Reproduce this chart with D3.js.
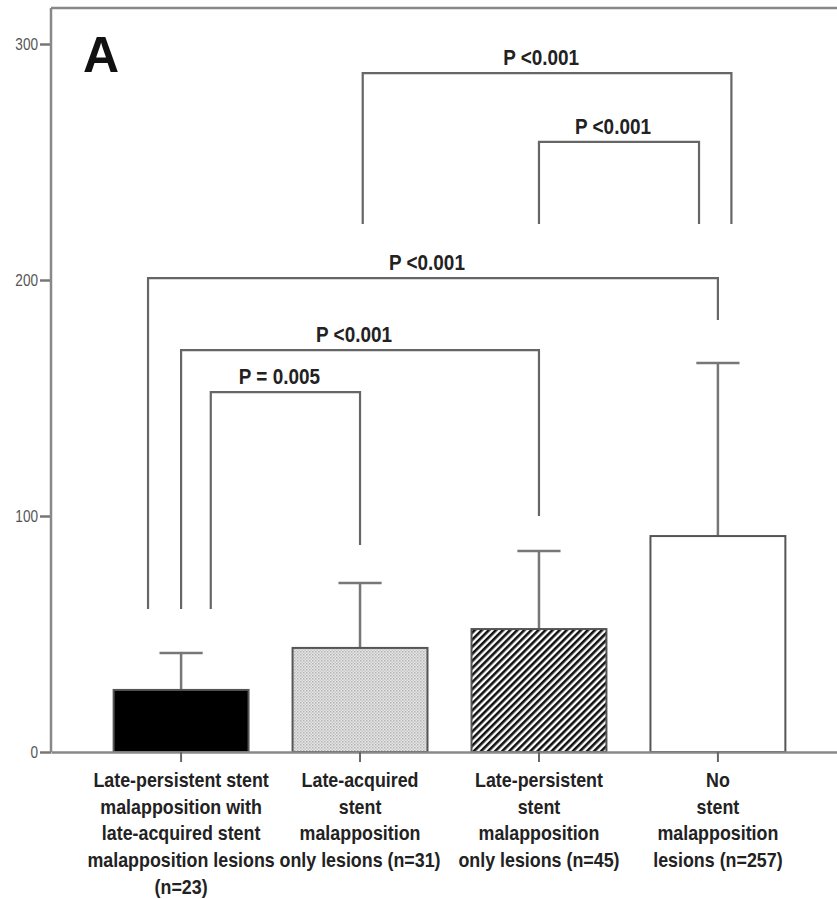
<!DOCTYPE html>
<html>
<head>
<meta charset="utf-8">
<script src="https://cdn.jsdelivr.net/npm/d3@7"></script>
<style>
  body { margin: 0; background: #fff; }
  svg { display: block; }
  .narrow { font-family: "Liberation Sans Narrow", "Arial Narrow", "Liberation Sans", Arial, sans-serif; }
</style>
</head>
<body>
<div id="chart"></div>
<script>
// group labels, one entry per line of the axis label
const categories = ['g1', 'g2', 'g3', 'g4'];
const categoryLabels = [
  ['Late-persistent stent', 'malapposition with', 'late-acquired stent', 'malapposition lesions', '(n=23)'],
  ['Late-acquired', 'stent', 'malapposition', 'only lesions (n=31)'],
  ['Late-persistent', 'stent', 'malapposition', 'only lesions (n=45)'],
  ['No', 'stent', 'malapposition', 'lesions (n=257)']
];
const means = [26.3, 44.1, 52.1, 91.5];
const errTops = [42.0, 71.6, 85.2, 164.8];
const yTicks = [0, 100, 200, 300];

// significance brackets: groups compared, bracket level and leg ends (data units)
const bracketPairs = [[0, 1], [0, 2], [0, 3], [1, 3], [2, 3]];
const bracketLevels = [152.5, 170.3, 200.8, 287.7, 258.5];
const bracketLegEnds = [[60.6, 87.7], [60.6, 100], [60.6, 183], [223.7, 223.7], [223.7, 223.7]];
const bracketLabels = ['P = 0.005', 'P <0.001', 'P <0.001', 'P <0.001', 'P <0.001'];

const panelLabel = 'A';

const W = 837, H = 899;
const margin = { top: 8, left: 51 };
const yMax = 315.3;
const squeeze = 0.85; // the original uses a condensed face

const svg = d3.select('#chart').append('svg')
  .attr('width', W)
  .attr('height', H);

const x = d3.scaleBand()
  .domain(categories)
  .range([margin.left, 848])
  .paddingInner(0.246)
  .paddingOuter(0.35);

const y = d3.scaleLinear()
  .domain([0, 300])
  .range([752, 44]);

// where a bracket leg sits inside a band (fraction of band width from centre)
const legShift = [[0.22, 0], [0, 0], [-0.245, 0], [0.02, 0.1], [0, -0.14]];

const defs = svg.append('defs');

const dots = defs.append('pattern')
  .attr('id', 'dots')
  .attr('patternUnits', 'userSpaceOnUse')
  .attr('width', 3)
  .attr('height', 3);
dots.append('rect').attr('width', 3).attr('height', 3).attr('fill', '#e6e6e6');
dots.append('rect').attr('width', 1.5).attr('height', 1.5).attr('fill', '#b4b4b4');
dots.append('rect').attr('x', 1.5).attr('y', 1.5).attr('width', 1.5).attr('height', 1.5).attr('fill', '#c8c8c8');

const hatch = defs.append('pattern')
  .attr('id', 'hatch')
  .attr('patternUnits', 'userSpaceOnUse')
  .attr('width', 5)
  .attr('height', 5)
  .attr('patternTransform', 'rotate(45)');
hatch.append('rect').attr('width', 5).attr('height', 5).attr('fill', '#fff');
hatch.append('rect').attr('width', 2.6).attr('height', 5).attr('fill', '#111');

const fills = ['#000', 'url(#dots)', 'url(#hatch)', '#fff'];

const cx = i => x(categories[i]) + x.bandwidth() / 2;

// y axis
const yAxis = svg.append('g')
  .attr('transform', `translate(${margin.left},0)`)
  .call(d3.axisLeft(y).tickValues(yTicks).tickSize(11).tickSizeOuter(0).tickPadding(2));
yAxis.select('.domain').remove();
yAxis.selectAll('.tick line').attr('stroke', '#777').attr('stroke-width', 2.5);
yAxis.selectAll('.tick text')
  .attr('class', 'narrow')
  .attr('font-size', 17)
  .attr('fill', '#555')
  .attr('x', 0)
  .attr('transform', 'translate(-13,0) scale(0.8,1)');

// frame: left axis line and top line
svg.append('line')
  .attr('x1', margin.left).attr('x2', margin.left)
  .attr('y1', y(yMax)).attr('y2', y(0))
  .attr('stroke', '#888').attr('stroke-width', 2.5);
svg.append('line')
  .attr('x1', margin.left).attr('x2', W)
  .attr('y1', y(yMax)).attr('y2', y(yMax))
  .attr('stroke', '#888').attr('stroke-width', 2.5);

// error bars (drawn under bars)
const eb = svg.append('g').attr('stroke', '#777').attr('stroke-width', 2.5);
eb.selectAll('.stem').data(means).join('line')
  .attr('x1', (d, i) => cx(i)).attr('x2', (d, i) => cx(i))
  .attr('y1', d => y(d)).attr('y2', (d, i) => y(errTops[i]));
eb.selectAll('.cap').data(errTops).join('line')
  .attr('x1', (d, i) => cx(i) - x.bandwidth() * 0.16)
  .attr('x2', (d, i) => cx(i) + x.bandwidth() * 0.16)
  .attr('y1', d => y(d)).attr('y2', d => y(d));

// bars
svg.selectAll('.bar').data(means).join('rect')
  .attr('class', 'bar')
  .attr('x', (d, i) => x(categories[i]))
  .attr('y', d => y(d))
  .attr('width', x.bandwidth())
  .attr('height', d => y(0) - y(d))
  .attr('fill', (d, i) => fills[i])
  .attr('stroke', '#555')
  .attr('stroke-width', 2);

// x axis
const xAxis = svg.append('g')
  .attr('transform', `translate(0,${y(0)})`)
  .call(d3.axisBottom(x).tickSize(10).tickSizeOuter(0).tickFormat(''));
xAxis.select('.domain').attr('stroke', '#888').attr('stroke-width', 2.5);
xAxis.selectAll('.tick line').attr('stroke', '#666').attr('stroke-width', 2);

// category labels
const labels = svg.append('g')
  .attr('class', 'narrow')
  .attr('font-size', 21)
  .attr('font-weight', 'bold')
  .attr('fill', '#222')
  .attr('text-anchor', 'middle');
categoryLabels.forEach((lines, i) => {
  const t = labels.append('text')
    .attr('transform', `translate(${cx(i)},${y(0) + 35}) scale(${squeeze},1)`);
  lines.forEach((ln, j) => {
    t.append('tspan')
      .attr('x', 0)
      .attr('dy', j === 0 ? 0 : 26.7)
      .text(ln);
  });
});

// significance brackets
const br = svg.append('g');
bracketPairs.forEach((pair, k) => {
  const x1 = cx(pair[0]) + legShift[k][0] * x.bandwidth();
  const x2 = cx(pair[1]) + legShift[k][1] * x.bandwidth();
  const lvl = y(bracketLevels[k]);
  const path = d3.path();
  path.moveTo(x1, y(bracketLegEnds[k][0]));
  path.lineTo(x1, lvl);
  path.lineTo(x2, lvl);
  path.lineTo(x2, y(bracketLegEnds[k][1]));
  br.append('path')
    .attr('d', path.toString())
    .attr('fill', 'none')
    .attr('stroke', '#666')
    .attr('stroke-width', 2.2);
  br.append('text')
    .attr('class', 'narrow')
    .attr('transform', `translate(${(x1 + x2) / 2 - 6},${lvl - 8}) scale(0.86,1)`)
    .attr('text-anchor', 'middle')
    .attr('font-size', 22)
    .attr('font-weight', 'bold')
    .attr('fill', '#222')
    .text(bracketLabels[k]);
});

// panel letter
svg.append('text')
  .attr('x', 83)
  .attr('y', 72)
  .attr('font-family', '"Liberation Sans", Arial, sans-serif')
  .attr('font-size', 50)
  .attr('font-weight', 'bold')
  .attr('fill', '#111')
  .text(panelLabel);
</script>
</body>
</html>
